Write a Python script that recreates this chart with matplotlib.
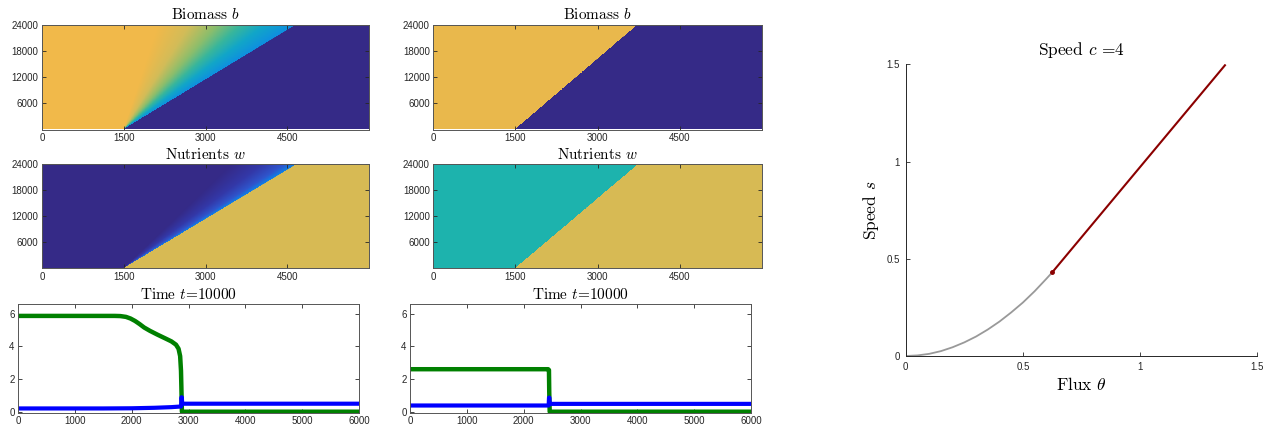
import numpy as np
import matplotlib
matplotlib.use("Agg")
import matplotlib.pyplot as plt
from matplotlib.colors import LinearSegmentedColormap

plt.rcParams['mathtext.fontset'] = 'cm'
plt.rcParams['font.family'] = ['Liberation Sans', 'DejaVu Sans']

W, H = 1272, 434

# ---------------- data ----------------
# heatmap geometry: front starts at x=1500 at t=0, reaches these x at t=24000
front_start = 1500
front_top_left = 4680
front_top_right = 3740
t_max = 24000
x_max = 6000

# left biomass profile as function of r = (x-x0)/(front(t)-x0)
bio_r = [0.0, 0.20, 0.38, 0.54, 0.68, 0.82, 0.995]
bio_cols = ['#F1B94A', '#F1B94A', '#D3BC58', '#8CBE6C', '#38B69C', '#12A6C8', '#0E8FE0']
# left nutrients profile
nut_r = [0.0, 0.62, 0.80, 0.93, 0.995]
nut_cols = ['#352A87', '#352A87', '#3338A8', '#2F55CC', '#0F80E6']
dark_blue = '#352A87'
yellow_bio_right = '#E9B84C'
yellow_nut = '#D7BA54'
teal_nut = '#1DB3AD'

# line plots (Time t=10000)
xL_green = [0, 1700, 1800, 1900, 1980, 2060, 2140, 2220, 2320, 2450, 2600, 2700, 2780, 2825, 2853, 2868, 2878, 2884, 6000]
yL_green = [5.86, 5.86, 5.85, 5.80, 5.70, 5.55, 5.36, 5.15, 4.95, 4.72, 4.47, 4.30, 4.10, 3.85, 3.40, 2.50, 1.0, 0.0, 0.0]
xL_blue = [0, 1500, 2000, 2400, 2700, 2870, 2876, 2882, 2890, 6000]
yL_blue = [0.20, 0.20, 0.21, 0.24, 0.28, 0.32, 0.88, 0.88, 0.49, 0.49]
xR_green = [0, 2430, 2445, 2450, 2458, 6000]
yR_green = [2.6, 2.6, 2.55, 1.2, 0.0, 0.0]
xR_blue = [0, 2440, 2446, 2452, 2460, 6000]
yR_blue = [0.38, 0.38, 0.86, 0.86, 0.48, 0.48]

# speed curve
theta_gray = [0.0, 0.05, 0.10, 0.15, 0.20, 0.25, 0.30, 0.35, 0.40, 0.45, 0.50, 0.55, 0.60, 0.625]
s_gray = [0.0, 0.003, 0.011, 0.025, 0.045, 0.070, 0.100, 0.136, 0.177, 0.224, 0.275, 0.333, 0.397, 0.430]
theta_red = [0.625, 1.362]
s_red = [0.430, 1.495]

# ---------------- helpers ----------------
def ax_px(x0, y0, x1, y1):
    return fig.add_axes([x0 / W, 1 - y1 / H, (x1 - x0) / W, (y1 - y0) / H])

def style_box(ax):
    ax.tick_params(direction='in', length=3, width=0.6, labelsize=7, top=True, right=True,
                   colors='#262626', pad=2.5)
    for s in ax.spines.values():
        s.set_linewidth(0.7)
        s.set_color('#555555')

def ratio_field(front_top):
    xs = np.linspace(0, x_max, 1400)
    ts = np.linspace(0, t_max, 500)
    X, T = np.meshgrid(xs, ts)
    front = front_start + (front_top - front_start) * T / t_max
    r = (X - front_start) / np.maximum(front - front_start, 1e-9)
    r[X < front_start] = 0.0
    return r

def make_cmap(rs, cols, after, rmax=1.2):
    pos = [p / rmax for p in rs] + [1.0 / rmax + 1e-4, 1.0]
    c = list(cols) + [after, after]
    pos[0] = 0.0
    return LinearSegmentedColormap.from_list('c', list(zip(pos, c)), N=2048)

title_kw = dict(fontsize=11, fontfamily='cmr10', pad=4)

fig = plt.figure(figsize=(W / 100, H / 100), dpi=100)

heat_axes = [
    (42, 25, 369, 129.5, 'Biomass $b$', front_top_left, make_cmap(bio_r, bio_cols, dark_blue)),
    (433.3, 25, 761.7, 129.5, 'Biomass $b$', front_top_right,
     make_cmap([0.0, 0.999], [yellow_bio_right, yellow_bio_right], dark_blue)),
    (42, 164.3, 369, 268.3, 'Nutrients $w$', front_top_left, make_cmap(nut_r, nut_cols, yellow_nut)),
    (433.3, 164.3, 761.7, 268.3, 'Nutrients $w$', front_top_right,
     make_cmap([0.0, 0.999], [teal_nut, teal_nut], yellow_nut)),
]
for (x0, y0, x1, y1, ttl, ftop, cmap) in heat_axes:
    ax = ax_px(x0, y0, x1, y1)
    r = ratio_field(ftop)
    ax.imshow(np.clip(r, 0, 1.2), extent=[0, x_max, 0, t_max], origin='lower', aspect='auto',
              cmap=cmap, vmin=0, vmax=1.2, interpolation='nearest')
    ax.set_xlim(0, x_max)
    ax.set_ylim(0, t_max)
    ax.set_xticks([0, 1500, 3000, 4500])
    ax.set_yticks([6000, 12000, 18000, 24000])
    style_box(ax)
    ax.set_title(ttl, **title_kw)

line_axes = [
    (18, 304.3, 359, 412.7, xL_green, yL_green, xL_blue, yL_blue),
    (410, 304.3, 751, 412.7, xR_green, yR_green, xR_blue, yR_blue),
]
for (x0, y0, x1, y1, xg, yg, xb, yb) in line_axes:
    ax = ax_px(x0, y0, x1, y1)
    ax.plot(xg, yg, color='#008000', lw=3.2, solid_joinstyle='round', solid_capstyle='butt')
    ax.plot(xb, yb, color='#0000FF', lw=3.0, solid_joinstyle='round', solid_capstyle='butt')
    ax.set_xlim(0, 6000)
    ax.set_ylim(-0.06, 6.57)
    ax.set_xticks([0, 1000, 2000, 3000, 4000, 5000, 6000])
    ax.set_yticks([0, 2, 4, 6])
    style_box(ax)
    ax.set_title('Time $t$=10000', **title_kw)

ax = ax_px(905.7, 64.3, 1257.3, 356)
ax.plot(theta_gray, s_gray, color='#999999', lw=1.3)
ax.plot(theta_red, s_red, color='#8B0000', lw=1.5)
ax.plot([theta_red[0]], [s_red[0]], 'o', color='#8B0000', ms=2.5)
ax.set_xlim(0, 1.5)
ax.set_ylim(0, 1.5)
ax.set_xticks([0, 0.5, 1, 1.5])
ax.set_xticklabels(['0', '0.5', '1', '1.5'])
ax.set_yticks([0, 0.5, 1, 1.5])
ax.set_yticklabels(['0', '0.5', '1', '1.5'])
ax.spines['top'].set_visible(False)
ax.spines['right'].set_visible(False)
for s in ax.spines.values():
    s.set_linewidth(0.7)
    s.set_color('#262626')
ax.tick_params(direction='in', length=3, width=0.6, labelsize=7, colors='#262626', pad=4)
ax.set_title('Speed $c$ =4', fontsize=12.5, fontfamily='cmr10', pad=7)
ax.set_xlabel(r'Flux $\theta$', fontsize=12.5, fontfamily='cmr10', labelpad=3)
ax.set_ylabel('Speed $s$', fontsize=12.5, fontfamily='cmr10', labelpad=4)

fig.savefig('out.png', dpi=100)
